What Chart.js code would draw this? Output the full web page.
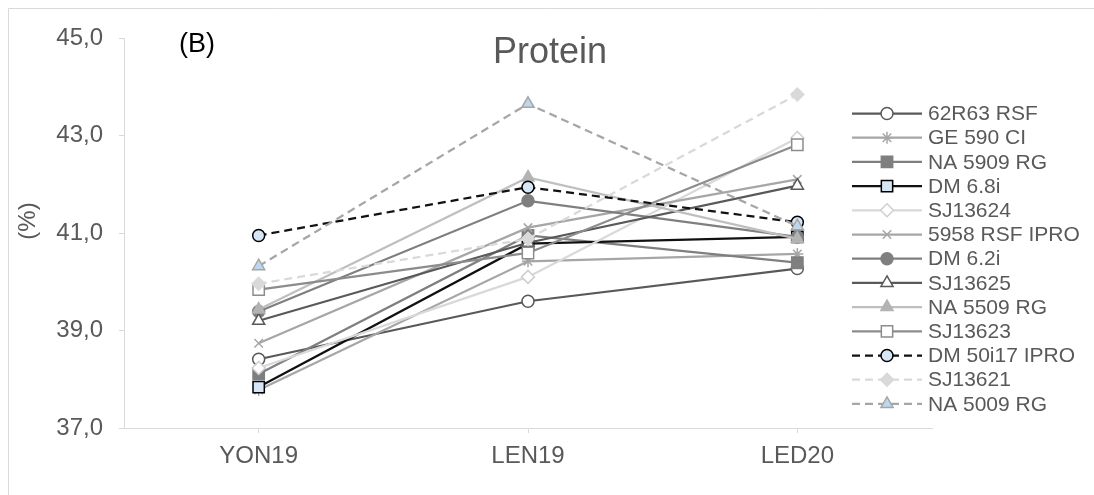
<!DOCTYPE html>
<html>
<head>
<meta charset="utf-8">
<script src="https://cdn.jsdelivr.net/npm/chart.js@4/dist/chart.umd.min.js"></script>
<style>
  html, body { margin: 0; padding: 0; background: #ffffff; }
  #wrap { width: 1094px; height: 495px; position: relative; }
</style>
</head>
<body>
<div id="wrap"><canvas id="c" width="1094" height="495"></canvas></div>
<script>
// Trial locations (x categories)
const locations = ['YON19', 'LEN19', 'LED20'];

// Protein content (%) per cultivar at each location
const r62R63RSF   = [38.41, 39.60, 40.27];
const ge590CI     = [37.78, 40.42, 40.57];
const na5909RG    = [38.11, 40.95, 40.39];
const dm68i       = [37.84, 40.78, 40.92];
const sj13624     = [38.23, 40.10, 42.95];
const r5958RSFIPRO= [38.74, 41.11, 42.10];
const dm62i       = [39.39, 41.66, 40.92];
const sj13625     = [39.20, 40.80, 41.97];
const na5509RG    = [39.43, 42.14, 40.88];
const sj13623     = [39.84, 40.59, 42.81];
const dm50i17IPRO = [40.95, 41.94, 41.22];
const sj13621     = [39.96, 40.88, 43.84];
const na5009RG    = [40.32, 43.65, 41.14];

// Y axis ticks
const yTicks = [37, 39, 41, 43, 45];

const FONT = "'Liberation Sans', Arial, sans-serif";
const LW = 2.25;

function series(label, data, color, style, radius, bg, border, dashed) {
  return {
    label: label,
    data: data,
    borderColor: color,
    borderWidth: LW,
    borderDash: dashed ? [8, 5] : [],
    pointStyle: style,
    pointRadius: radius,
    pointHoverRadius: radius,
    pointBackgroundColor: bg,
    pointBorderColor: border,
    pointBorderWidth: 1.5,
    tension: 0,
    fill: false
  };
}

const datasets = [
  series('62R63 RSF',     r62R63RSF,    '#595959', 'circle',   6, '#ffffff', '#595959', false),
  series('GE 590 CI',     ge590CI,      '#A6A6A6', 'star',     6, '#A6A6A6', '#A6A6A6', false),
  series('NA 5909 RG',    na5909RG,     '#7F7F7F', 'rect',     8, '#7F7F7F', '#7F7F7F', false),
  series('DM 6.8i',       dm68i,        '#111111', 'rect',     8, '#D6E6F5', '#000000', false),
  series('SJ13624',       sj13624,      '#D9D9D9', 'rectRot',  6.5, '#ffffff', '#CFCFCF', false),
  series('5958 RSF IPRO', r5958RSFIPRO, '#A6A6A6', 'crossRot', 6, '#A6A6A6', '#A6A6A6', false),
  series('DM 6.2i',       dm62i,        '#7F7F7F', 'circle',   6, '#7F7F7F', '#7F7F7F', false),
  series('SJ13625',       sj13625,      '#595959', 'triangle', 7, '#ffffff', '#595959', false),
  series('NA 5509 RG',    na5509RG,     '#BFBFBF', 'triangle', 7, '#B3B3B3', '#B3B3B3', false),
  series('SJ13623',       sj13623,      '#8C8C8C', 'rect',     8, '#ffffff', '#8C8C8C', false),
  series('DM 50i17 IPRO', dm50i17IPRO,  '#111111', 'circle',   6, '#D6E6F5', '#000000', true),
  series('SJ13621',       sj13621,      '#D9D9D9', 'rectRot',  6.5, '#D9D9D9', '#D9D9D9', true),
  series('NA 5009 RG',    na5009RG,     '#A6A6A6', 'triangle', 7, '#BDD7EE', '#A6A6A6', true)
];
// later series are drawn on top
datasets.forEach((d, i) => { d.order = datasets.length - i; });

function drawMarker(ctx, ds, x, y) {
  ctx.save();
  ctx.setLineDash([]);
  ctx.fillStyle = ds.pointBackgroundColor;
  ctx.strokeStyle = ds.pointBorderColor;
  ctx.lineWidth = ds.pointBorderWidth;
  Chart.helpers.drawPoint(ctx, {
    pointStyle: ds.pointStyle,
    radius: ds.pointRadius,
    borderWidth: ds.pointBorderWidth,
    rotation: 0
  }, x, y);
  ctx.restore();
}

const decor = {
  id: 'decor',
  afterDraw(chart) {
    const ctx = chart.ctx;
    ctx.save();
    // outer frame
    ctx.strokeStyle = '#D9D9D9';
    ctx.lineWidth = 1;
    ctx.beginPath();
    ctx.moveTo(8.5, 495);
    ctx.lineTo(8.5, 8.5);
    ctx.lineTo(1094, 8.5);
    ctx.stroke();

    // chart title
    ctx.fillStyle = '#595959';
    ctx.font = '36px ' + FONT;
    ctx.textAlign = 'center';
    ctx.textBaseline = 'alphabetic';
    ctx.fillText('Protein', 550, 63);

    // panel label
    ctx.fillStyle = '#000000';
    ctx.font = '27px ' + FONT;
    ctx.textAlign = 'left';
    ctx.fillText('(B)', 179, 52);

    // y axis title
    ctx.save();
    ctx.translate(28, 221);
    ctx.rotate(-Math.PI / 2);
    ctx.fillStyle = '#595959';
    ctx.font = '24px ' + FONT;
    ctx.textAlign = 'center';
    ctx.textBaseline = 'middle';
    ctx.fillText('(%)', 0, 0);
    ctx.restore();

    // legend: line sample with marker, then name
    const x0 = 852, x1 = 922, xm = 887, xt = 928;
    const y0 = 113.5, dy = 24.2;
    ctx.font = '21px ' + FONT;
    ctx.textAlign = 'left';
    ctx.textBaseline = 'middle';
    chart.data.datasets.forEach((ds, i) => {
      const y = y0 + i * dy;
      ctx.save();
      ctx.strokeStyle = ds.borderColor;
      ctx.lineWidth = ds.borderWidth;
      ctx.setLineDash(ds.borderDash);
      ctx.beginPath();
      ctx.moveTo(x0, y);
      ctx.lineTo(x1, y);
      ctx.stroke();
      ctx.restore();
      drawMarker(ctx, ds, xm, y);
      ctx.fillStyle = '#595959';
      ctx.fillText(ds.label, xt, y + 1);
    });
    ctx.restore();
  }
};

new Chart(document.getElementById('c'), {
  type: 'line',
  data: { labels: locations, datasets: datasets },
  options: {
    responsive: false,
    devicePixelRatio: 1,
    animation: false,
    events: [],
    layout: { padding: { left: 0, right: 162, top: 38, bottom: 0 } },
    plugins: {
      legend: { display: false },
      title: { display: false },
      tooltip: { enabled: false }
    },
    scales: {
      x: {
        type: 'category',
        offset: true,
        grid: {
          offset: false,
          drawOnChartArea: false,
          drawTicks: true,
          tickLength: 5,
          color: '#D9D9D9'
        },
        border: { display: true, color: '#D9D9D9', width: 1 },
        ticks: {
          color: '#595959',
          font: { family: FONT, size: 24 },
          padding: 9,
          maxRotation: 0
        },
        afterFit(scale) { scale.height = 67; }
      },
      y: {
        min: 37,
        max: 45,
        afterBuildTicks(scale) { scale.ticks = yTicks.map(v => ({ value: v })); },
        grid: {
          drawOnChartArea: false,
          drawTicks: true,
          tickLength: 5,
          color: '#D9D9D9'
        },
        border: { display: true, color: '#D9D9D9', width: 1 },
        ticks: {
          color: '#595959',
          font: { family: FONT, size: 24 },
          padding: 16,
          callback: v => v.toFixed(1).replace('.', ',')
        },
        afterFit(scale) { scale.width = 124; }
      }
    }
  },
  plugins: [decor]
});
</script>
</body>
</html>
